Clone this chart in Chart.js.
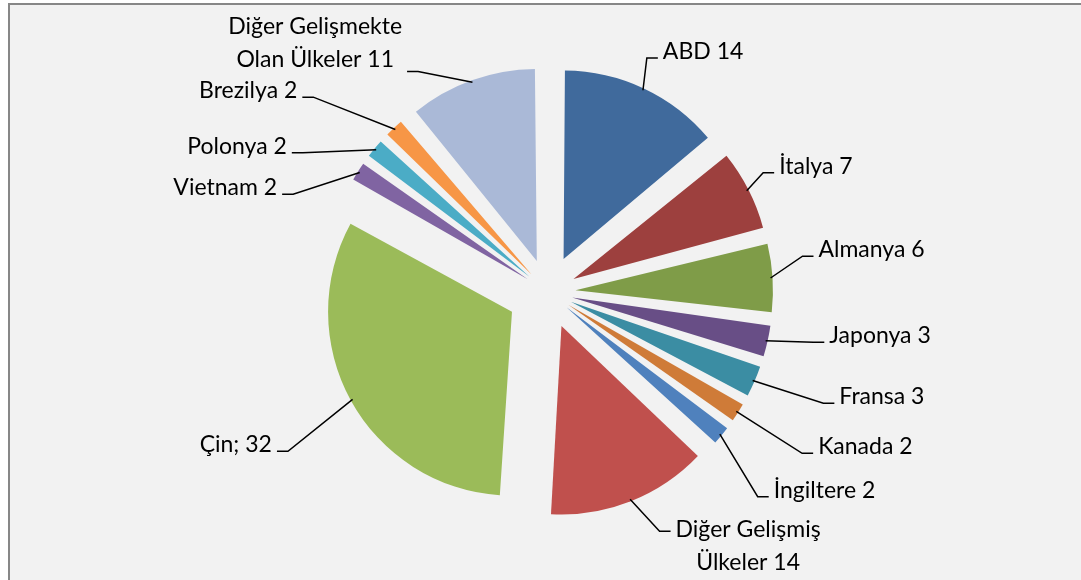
<!DOCTYPE html>
<html>
<head>
<meta charset="utf-8">
<script src="https://cdn.jsdelivr.net/npm/chart.js@4/dist/chart.umd.min.js"></script>
<style>
  body { margin: 0; background: #fff; overflow: hidden; }
  #wrap { width: 1081px; height: 580px; position: relative; }
</style>
</head>
<body>
<div id="wrap"><canvas id="grafico"></canvas></div>
<script>
// dados do grafico
const paises = [
  "ABD", "İtalya", "Almanya", "Japonya", "Fransa", "Kanada", "İngiltere",
  "Diğer Gelişmiş\nÜlkeler", "Çin", "Vietnam", "Polonya", "Brezilya",
  "Diğer Gelişmekte\nOlan Ülkeler"
];
const valores = [14, 7, 6, 3, 3, 2, 2, 14, 32, 2, 2, 2, 11];
const cores = [
  "#406a9c", "#9d403e", "#7f9c48", "#684e86", "#3b8da3", "#cf7b38", "#4f81bd",
  "#c0504d", "#9bbb59", "#8064a2", "#4bacc6", "#f79646", "#aab9d7"
];

// onde fica o cotovelo da linha de cada rotulo (raio em px, giro em graus)
const labelRaio = [254, 246, 257, 270, 297, 301, 293, 264, 305, 273, 282, 305, 256];
const labelGiro = [-2.3, -2, -4.4, -1.9, -1.4, 0, 4.7, -3.4, -2.7, -11.4, -10, -7.1, -10.7];

const explosao = 45; // deslocamento de cada fatia em px
const fonte = "23px Lato";
const alturaLinha = 33;
const total = valores.reduce((a, b) => a + b, 0);

// chart.js v4 desloca a fatia em offset/4 * (1 + fix), entao compensa aqui
function offsetFatia(c) {
  const circ = (valores[c.dataIndex] / total) * Math.PI * 2;
  const fix = 1 - Math.sin(Math.min(Math.PI, circ));
  return (4 * explosao) / (1 + fix);
}

function textoRotulo(i) {
  const sep = paises[i] === "Çin" ? "; " : " ";
  const linhas = paises[i].split("\n");
  linhas[linhas.length - 1] += sep + valores[i];
  return linhas;
}

const fundoPlugin = {
  id: "fundo",
  beforeDraw(chart) {
    const ctx = chart.ctx;
    ctx.save();
    ctx.fillStyle = "#ffffff";
    ctx.fillRect(0, 0, chart.width, chart.height);
    ctx.fillStyle = "#f2f2f2";
    ctx.fillRect(9, 4, chart.width, chart.height);
    ctx.strokeStyle = "#878787";
    ctx.lineWidth = 2;
    ctx.beginPath();
    ctx.moveTo(9, chart.height);
    ctx.lineTo(9, 4);
    ctx.lineTo(chart.width, 4);
    ctx.stroke();
    ctx.restore();
  }
};

const rotulosPlugin = {
  id: "rotulos",
  afterDatasetsDraw(chart) {
    const ctx = chart.ctx;
    const meta = chart.getDatasetMeta(0);
    ctx.save();
    ctx.font = fonte;
    ctx.fillStyle = "#000";
    ctx.strokeStyle = "#000";
    ctx.lineWidth = 1.5;

    meta.data.forEach((arc, i) => {
      const p = arc.getProps(["x", "y", "startAngle", "endAngle", "outerRadius"], true);
      const meio = (p.startAngle + p.endAngle) / 2;
      const r0 = p.outerRadius + explosao - 2;
      const x0 = p.x + Math.cos(meio) * r0;
      const y0 = p.y + Math.sin(meio) * r0;

      const ang = meio + (labelGiro[i] * Math.PI) / 180;
      const x1 = p.x + Math.cos(ang) * labelRaio[i];
      const y1 = p.y + Math.sin(ang) * labelRaio[i];
      const lado = x1 >= p.x ? 1 : -1;
      const x2 = x1 + lado * 11;

      ctx.beginPath();
      ctx.moveTo(x0, y0);
      ctx.lineTo(x1, y1);
      ctx.lineTo(x2, y1);
      ctx.stroke();

      const linhas = textoRotulo(i);
      let largura = 0;
      linhas.forEach((l) => {
        largura = Math.max(largura, ctx.measureText(l).width);
      });
      const xt = lado > 0 ? x2 + 5 : x2 - 5 - largura;
      let base;
      if (linhas.length === 1) {
        base = y1 + 1;
      } else if (y1 > p.y) {
        base = y1 + 6;
      } else {
        base = y1 - 4 - (linhas.length - 1) * alturaLinha;
      }
      ctx.textAlign = "center";
      ctx.textBaseline = "alphabetic";
      linhas.forEach((l, k) => {
        ctx.fillText(l, xt + largura / 2, base + k * alturaLinha);
      });
    });
    ctx.restore();
  }
};

new Chart(document.querySelector("#grafico"), {
  type: "pie",
  data: {
    labels: paises,
    datasets: [
      {
        data: valores,
        backgroundColor: cores,
        borderWidth: 0,
        offset: offsetFatia,
        hoverOffset: 0,
        radius: 180
      }
    ]
  },
  options: {
    responsive: true,
    maintainAspectRatio: false,
    animation: false,
    layout: { padding: { left: 15, top: 4 } },
    plugins: {
      legend: { display: false },
      tooltip: { enabled: false }
    },
    events: []
  },
  plugins: [fundoPlugin, rotulosPlugin]
});
</script>
</body>
</html>
